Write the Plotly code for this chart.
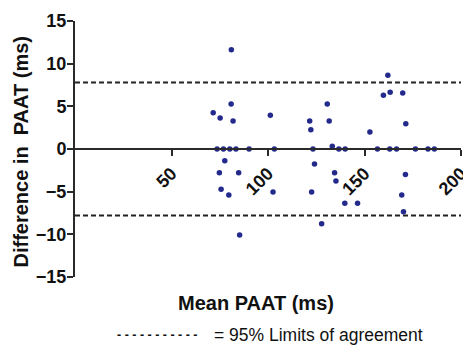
import plotly.graph_objects as go

mean_paat = [71.6, 75.2, 73.6, 76.9, 80.2, 83.4, 90.2, 81.0, 80.9, 81.9, 77.6, 74.8, 84.8,
             75.7, 79.7, 85.3, 101.2, 103.3, 102.6, 121.6, 122.2, 123.3, 124.1, 122.6,
             127.8, 130.7, 131.7, 133.3, 136.7, 140.0, 134.5, 135.2, 139.8, 146.4, 152.8,
             156.7, 159.8, 162.1, 163.3, 163.1, 166.6, 169.8, 171.4, 171.2, 169.3, 170.2,
             176.4, 182.9, 186.2]
diff_paat = [4.26, 3.63, 0, 0, 0, 0, 0, 11.64, 5.27, 3.28, -1.37, -2.77, -2.77,
             -4.73, -5.39, -10.08, 3.95, 0, -5.04, 3.28, 2.27, 0, -1.76, -5.04,
             -8.75, 5.27, 3.28, 0.31, 0, 0, -2.77, -3.75, -6.37, -6.37, 1.99,
             0, 6.29, 8.63, 6.64, 0, 0, 6.56, 2.97, -3.0, -5.39, -7.34,
             0, 0, 0]
loa_upper = 7.8
loa_lower = -7.8
x_range = [0, 200]
y_range = [-15, 15]
x_ticks = [50, 100, 150, 200]
y_ticks = [-15, -10, -5, 0, 5, 10, 15]

FONT = "Liberation Sans, Arial, sans-serif"
AXC = "#2a2a2a"

fig = go.Figure()
for lim in (loa_upper, loa_lower):
    fig.add_trace(go.Scatter(x=x_range, y=[lim, lim], mode="lines",
                             line=dict(color="#222222", width=2, dash="5px,3px"),
                             hoverinfo="skip", showlegend=False, cliponaxis=False))
fig.add_trace(go.Scatter(x=mean_paat, y=diff_paat, mode="markers",
                         marker=dict(color="#232a8c", size=5.5),
                         showlegend=False))

fig.update_layout(
    width=463, height=346,
    margin=dict(l=75, r=2, t=21, b=69, autoexpand=False),
    paper_bgcolor="white", plot_bgcolor="white",
    font=dict(family=FONT, color="#111111"),
    xaxis=dict(range=x_range, tickvals=x_ticks, ticks="outside", ticklen=6, tickwidth=2,
               tickcolor=AXC, showline=True, linecolor=AXC, linewidth=2,
               showgrid=False, zeroline=False, anchor="free", position=0.5,
               automargin=False, ticklabeloverflow="allow",
               tickangle=-45, tickfont=dict(size=18, weight="bold", color="#111111")),
    yaxis=dict(range=y_range, tickvals=y_ticks, ticks="outside", ticklen=6, tickwidth=2,
               tickcolor=AXC, showline=True, linecolor=AXC, linewidth=2,
               showgrid=False, zeroline=False, automargin=False,
               ticklabelstandoff=-3,
               tickfont=dict(size=18, weight="bold", color="#111111")),
    annotations=[
        dict(text="Mean PAAT (ms)", xref="paper", yref="paper", x=0.47, y=-0.1,
             xanchor="center", yanchor="middle", showarrow=False,
             font=dict(size=20, weight="bold", color="#111111")),
        dict(text="Difference in \u00a0PAAT (ms)", xref="paper", yref="paper",
             x=-0.14, y=0.49, xanchor="center", yanchor="middle", textangle=-90,
             showarrow=False, font=dict(size=20, weight="bold", color="#111111")),
        dict(text="- - - - - - - - - - -", xref="paper", yref="paper", x=0.215, y=-0.227,
             xanchor="center", yanchor="middle", showarrow=False,
             font=dict(size=12.5, weight="bold", color="#111111")),
        dict(text="= 95% Limits of agreement", xref="paper", yref="paper", x=0.355, y=-0.227,
             xanchor="left", yanchor="middle", showarrow=False,
             font=dict(size=17.5, color="#111111")),
    ],
)

fig.write_html("out.html", config={"displayModeBar": False},
               post_script="document.body.style.margin='0';document.body.style.overflow='hidden';")
